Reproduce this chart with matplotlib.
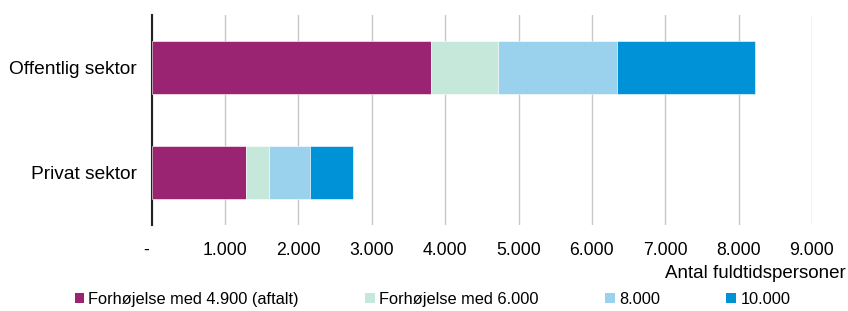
import numpy as np
import matplotlib
matplotlib.use("Agg")
import matplotlib.pyplot as plt
from matplotlib.patches import Patch

plt.rcParams['font.family'] = ['Liberation Sans', 'DejaVu Sans']

sectors = ["Privat sektor", "Offentlig sektor"]
series = ["Forhøjelse med 4.900 (aftalt)", "Forhøjelse med 6.000", "8.000", "10.000"]
# stacked increments per sector (Privat, Offentlig)
agreed = [1282, 3812]
to_6000 = [313, 909]
to_8000 = [562, 1620]
to_10000 = [584, 1879]
colors = ["#9B2472", "#C5E8DA", "#9AD2EE", "#0092D7"]
xticks = np.arange(0, 10000, 1000)
xtick_labels = ["-  "] + [f"{v // 1000}.000" for v in xticks[1:]]

fig = plt.figure(figsize=(8.48, 3.11), dpi=100)
ax = fig.add_axes([0.179, 0.2765, 0.7785, 0.6755])

left = np.zeros(2)
for vals, col in zip([agreed, to_6000, to_8000, to_10000], colors):
    ax.barh(sectors, vals, left=left, height=0.5, color=col,
            edgecolor="white", linewidth=0.4, zorder=3)
    left += np.array(vals)

ax.set_xlim(0, 9000)
ax.set_ylim(-0.5, 1.5)
ax.set_xticks(xticks)
ax.set_xticklabels(xtick_labels)
ax.grid(axis="x", color="#C8C8C8", linewidth=1, zorder=0)
for s in ["top", "right", "bottom"]:
    ax.spines[s].set_visible(False)
ax.spines["left"].set_linewidth(1.5)
ax.spines["left"].set_color("#222222")
ax.tick_params(axis="x", length=0, pad=12.5, labelsize=12.7)
ax.tick_params(axis="y", length=0, pad=10.5, labelsize=13.8)

fig.text(0.997, 0.122, "Antal fuldtidspersoner", ha="right", va="center",
         fontsize=13.5)

handles = [Patch(facecolor=c, edgecolor="none") for c in colors]
fig.legend(handles, series, loc="center", bbox_to_anchor=(0.51, 0.037),
           ncol=4, frameon=False, fontsize=11.8, handlelength=0.6,
           handleheight=0.6, handletextpad=0.25, columnspacing=4.05)

fig.savefig("out.png", dpi=100)
